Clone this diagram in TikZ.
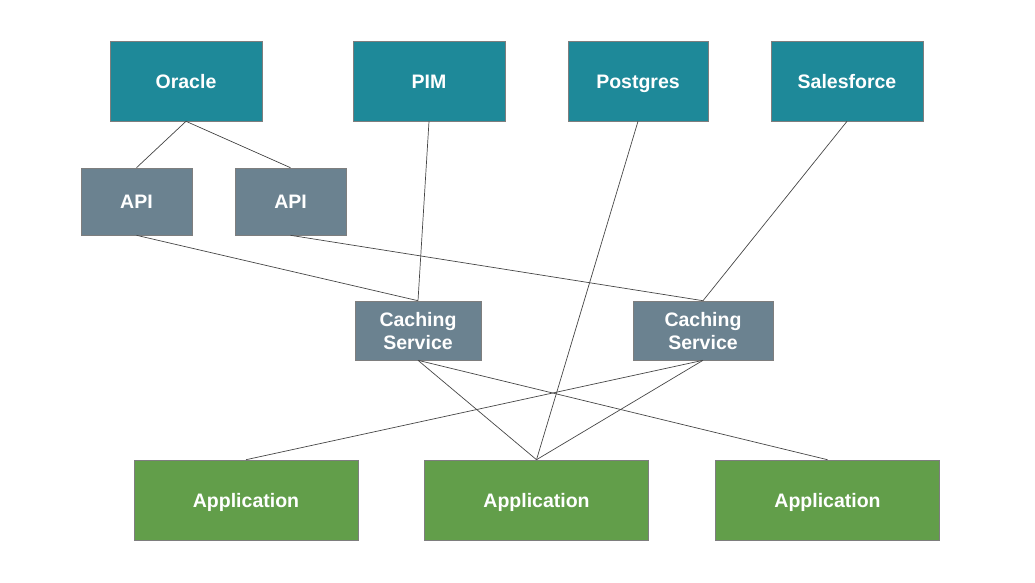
\documentclass[tikz,border=0pt]{standalone}
\usepackage{fontspec}
\setmainfont{Liberation Sans}
\usepackage{xcolor}
\usepackage{tikz}
\definecolor{sourcecolor}{RGB}{30,137,153}
\definecolor{servicecolor}{RGB}{107,130,144}
\definecolor{appcolor}{RGB}{98,158,74}
\definecolor{edgecolor}{RGB}{70,70,70}

\tikzset{
    box/.style={draw=edgecolor!70, line width=0.6pt, text=white, font=\fontsize{19.5}{23}\selectfont\bfseries, align=center, inner sep=0pt},
    source/.style={box, fill=sourcecolor, minimum height=80pt, text height=16pt, text depth=2pt},
    service/.style={box, fill=servicecolor},
    app/.style={box, fill=appcolor, minimum width=224pt, minimum height=80pt, text height=16pt, text depth=2pt},
    link/.style={draw=edgecolor, line width=0.7pt}
}

\begin{document}
\begin{tikzpicture}[x=1pt, y=-1pt]
        \useasboundingbox (0,0) rectangle (1035,582);
        % data sources
        \node[source, minimum width=152pt] (oracle) at (186,81) {Oracle};
        \node[source, minimum width=152pt] (pim) at (429,81) {PIM};
        \node[source, minimum width=140pt] (postgres) at (638,81) {Postgres};
        \node[source, minimum width=152pt] (salesforce) at (847,81) {Salesforce};
        % apis
        \node[service, minimum width=111pt, minimum height=67pt] (apiA) at (136.5,201.5) {API};
        \node[service, minimum width=111pt, minimum height=67pt] (apiB) at (290.5,201.5) {API};
        % caches
        \node[service, minimum width=126pt, minimum height=59pt, text depth=0pt] (cacheA) at (418,330.5) {Caching\\Service};
        \node[service, minimum width=140pt, minimum height=59pt, text depth=0pt] (cacheB) at (703,330.5) {Caching\\Service};
        % applications
        \node[app] (appA) at (246,500) {Application};
        \node[app] (appB) at (536.5,500) {Application};
        \node[app] (appC) at (827.5,500) {Application};

        \draw[link] (oracle.south) -- (apiA.north);
        \draw[link] (oracle.south) -- (apiB.north);
        \draw[link] (pim.south) -- (cacheA.north);
        \draw[link] (postgres.south) -- (appB.north);
        \draw[link] (salesforce.south) -- (cacheB.north);
        \draw[link] (apiA.south) -- (cacheA.north);
        \draw[link] (apiB.south) -- (cacheB.north);
        \draw[link] (cacheA.south) -- (appB.north);
        \draw[link] (cacheA.south) -- (appC.north);
        \draw[link] (cacheB.south) -- (appA.north);
        \draw[link] (cacheB.south) -- (appB.north);
    \end{tikzpicture}
\end{document}
